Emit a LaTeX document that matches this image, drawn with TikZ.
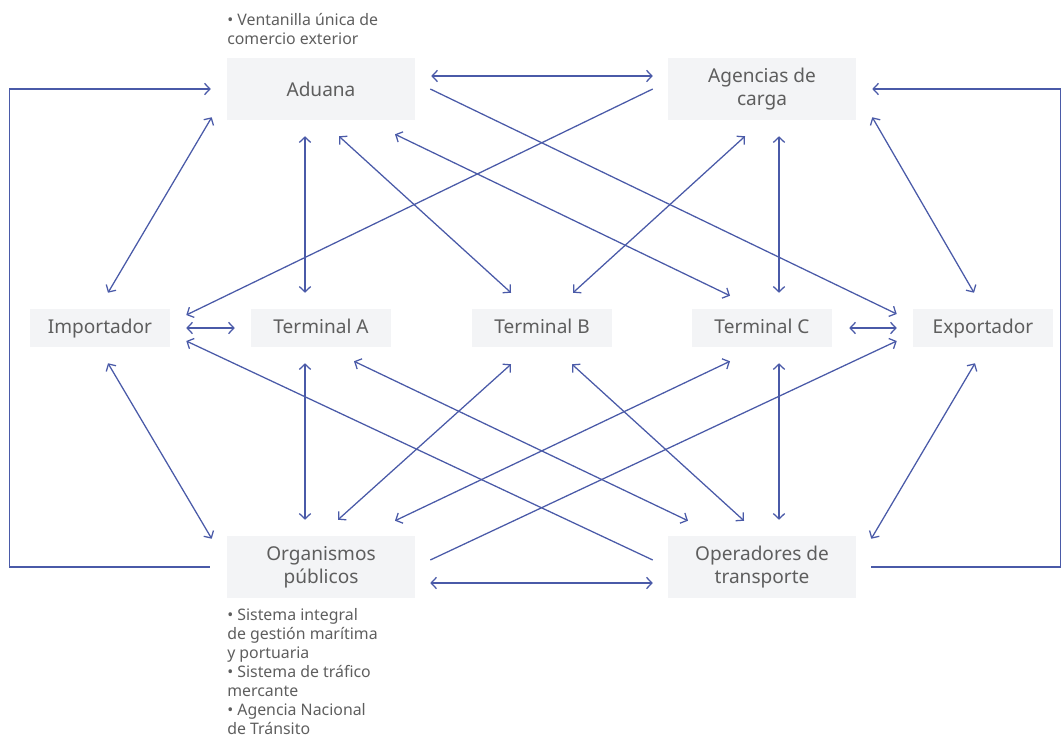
\documentclass[tikz,border=0pt]{standalone}
\usepackage{fontspec}
\setmainfont{Noto Sans}
\usetikzlibrary{arrows.meta}
\definecolor{lnkc}{HTML}{4A5AA8}
\definecolor{boxf}{HTML}{F3F4F6}
\definecolor{txtg}{HTML}{5E5E5E}
\tikzset{
  box/.style  ={fill=boxf, text=txtg, align=center, inner sep=0pt,
                font=\fontsize{14.3}{17.5}\selectfont,
                minimum width=105pt, minimum height=28.5pt},
  boxs/.style ={box, text height=11pt, text depth=3pt},
  boxw/.style ={box, minimum width=141pt, minimum height=46.5pt},
  note/.style ={text=txtg, align=left, inner sep=0pt, anchor=north west,
                font=\fontsize{11.9}{14.3}\selectfont},
  lnk/.style  ={{Straight Barb[length=4pt,width=8.5pt]}-{Straight Barb[length=4pt,width=8.5pt]},
                line width=0.95pt, draw=lnkc},
  one/.style  ={-{Straight Barb[length=4pt,width=8.5pt]}, line width=0.95pt, draw=lnkc},
}

\begin{document}
\begin{tikzpicture}[x=0.75pt, y=-0.75pt]
  \useasboundingbox (0,0) rectangle (1062,738);

  % ---- actors ----
  \node[boxw] (adua) at (321,89)  {Aduana};
  \node[boxw] (agen) at (762,89)  {Agencias de\\carga};
  \node[boxs] (impo) at (100,328) {Importador};
  \node[boxs] (tera) at (321,328) {Terminal A};
  \node[boxs] (terb) at (542,328) {Terminal B};
  \node[boxs] (terc) at (762,328) {Terminal C};
  \node[boxs] (expo) at (983,328) {Exportador};
  \node[boxw] (orgs) at (321,567) {Organismos\\públicos};
  \node[boxw] (oper) at (762,567) {Operadores de\\transporte};

  % ---- systems ----
  \node[note] (ventn) at (227,13) {• Ventanilla única de\\comercio exterior};
  \node[note] (orgsn) at (227,608) {• Sistema integral\\de gestión marítima\\y portuaria\\
    • Sistema de tráfico\\mercante\\• Agencia Nacional\\de Tránsito};

  % ---- top row ----
  \draw[lnk] ([shift={(16,-13)}]adua.east) -- ([shift={(-15,-13)}]agen.west);
  \draw[one] ([shift={(-15,0)}]agen.west) -- ([shift={(16,-13)}]impo.east);
  \draw[one] ([shift={(15,0)}]adua.east) -- ([shift={(-16,-14)}]expo.west);

  % ---- outer loops ----
  \draw[one] ([shift={(-17,0)}]orgs.west) -- ++(-200,0) |- ([shift={(-16,0)}]adua.west);
  \draw[one] ([shift={(15,0)}]oper.east) -- ++(189,0) |- ([shift={(16,0)}]agen.east);

  % ---- aduana <-> middle row ----
  \draw[lnk] ([shift={(8,-16)}]impo.north) -- ([shift={(-15,-3)}]adua.south west);
  \draw[lnk] ([shift={(-16,16)}]adua.south) -- ([shift={(-16,-16)}]tera.north);
  \draw[lnk] ([shift={(18,16)}]adua.south) -- ([shift={(-31,-16)}]terb.north);
  \draw[lnk] ([shift={(74,14)}]adua.south) -- ([shift={(-32,-13)}]terc.north);

  % ---- agencias <-> middle row ----
  \draw[lnk] ([shift={(-17,16)}]agen.south) -- ([shift={(31,-16)}]terb.north);
  \draw[lnk] ([shift={(17,16)}]agen.south) -- ([shift={(17,-16)}]terc.north);
  \draw[lnk] ([shift={(16,-3)}]agen.south east) -- ([shift={(-9,-16)}]expo.north);

  % ---- middle row ----
  \draw[lnk] ([shift={(16,0)}]impo.east) -- ([shift={(-16,0)}]tera.west);
  \draw[lnk] ([shift={(17,0)}]terc.east) -- ([shift={(-16,0)}]expo.west);

  % ---- organismos <-> middle row ----
  \draw[lnk] ([shift={(8,16)}]impo.south) -- ([shift={(-15,3)}]orgs.north west);
  \draw[lnk] ([shift={(-16,16)}]tera.south) -- ([shift={(-16,-16)}]orgs.north);
  \draw[lnk] ([shift={(-31,17)}]terb.south) -- ([shift={(17,-16)}]orgs.north);
  \draw[lnk] ([shift={(-32,14)}]terc.south) -- ([shift={(74,-15)}]orgs.north);
  \draw[one] ([shift={(15,-7)}]orgs.east) -- ([shift={(-16,13)}]expo.west);

  % ---- operadores <-> middle row ----
  \draw[one] ([shift={(-15,-7)}]oper.west) -- ([shift={(16,13)}]impo.east);
  \draw[lnk] ([shift={(33,14)}]tera.south) -- ([shift={(-74,-15)}]oper.north);
  \draw[lnk] ([shift={(30,17)}]terb.south) -- ([shift={(-18,-15)}]oper.north);
  \draw[lnk] ([shift={(17,16)}]terc.south) -- ([shift={(17,-16)}]oper.north);
  \draw[lnk] ([shift={(-8,16)}]expo.south) -- ([shift={(15,3)}]oper.north east);

  % ---- bottom row ----
  \draw[lnk] ([shift={(15,16)}]orgs.east) -- ([shift={(-15,16)}]oper.west);

\end{tikzpicture}
\end{document}
